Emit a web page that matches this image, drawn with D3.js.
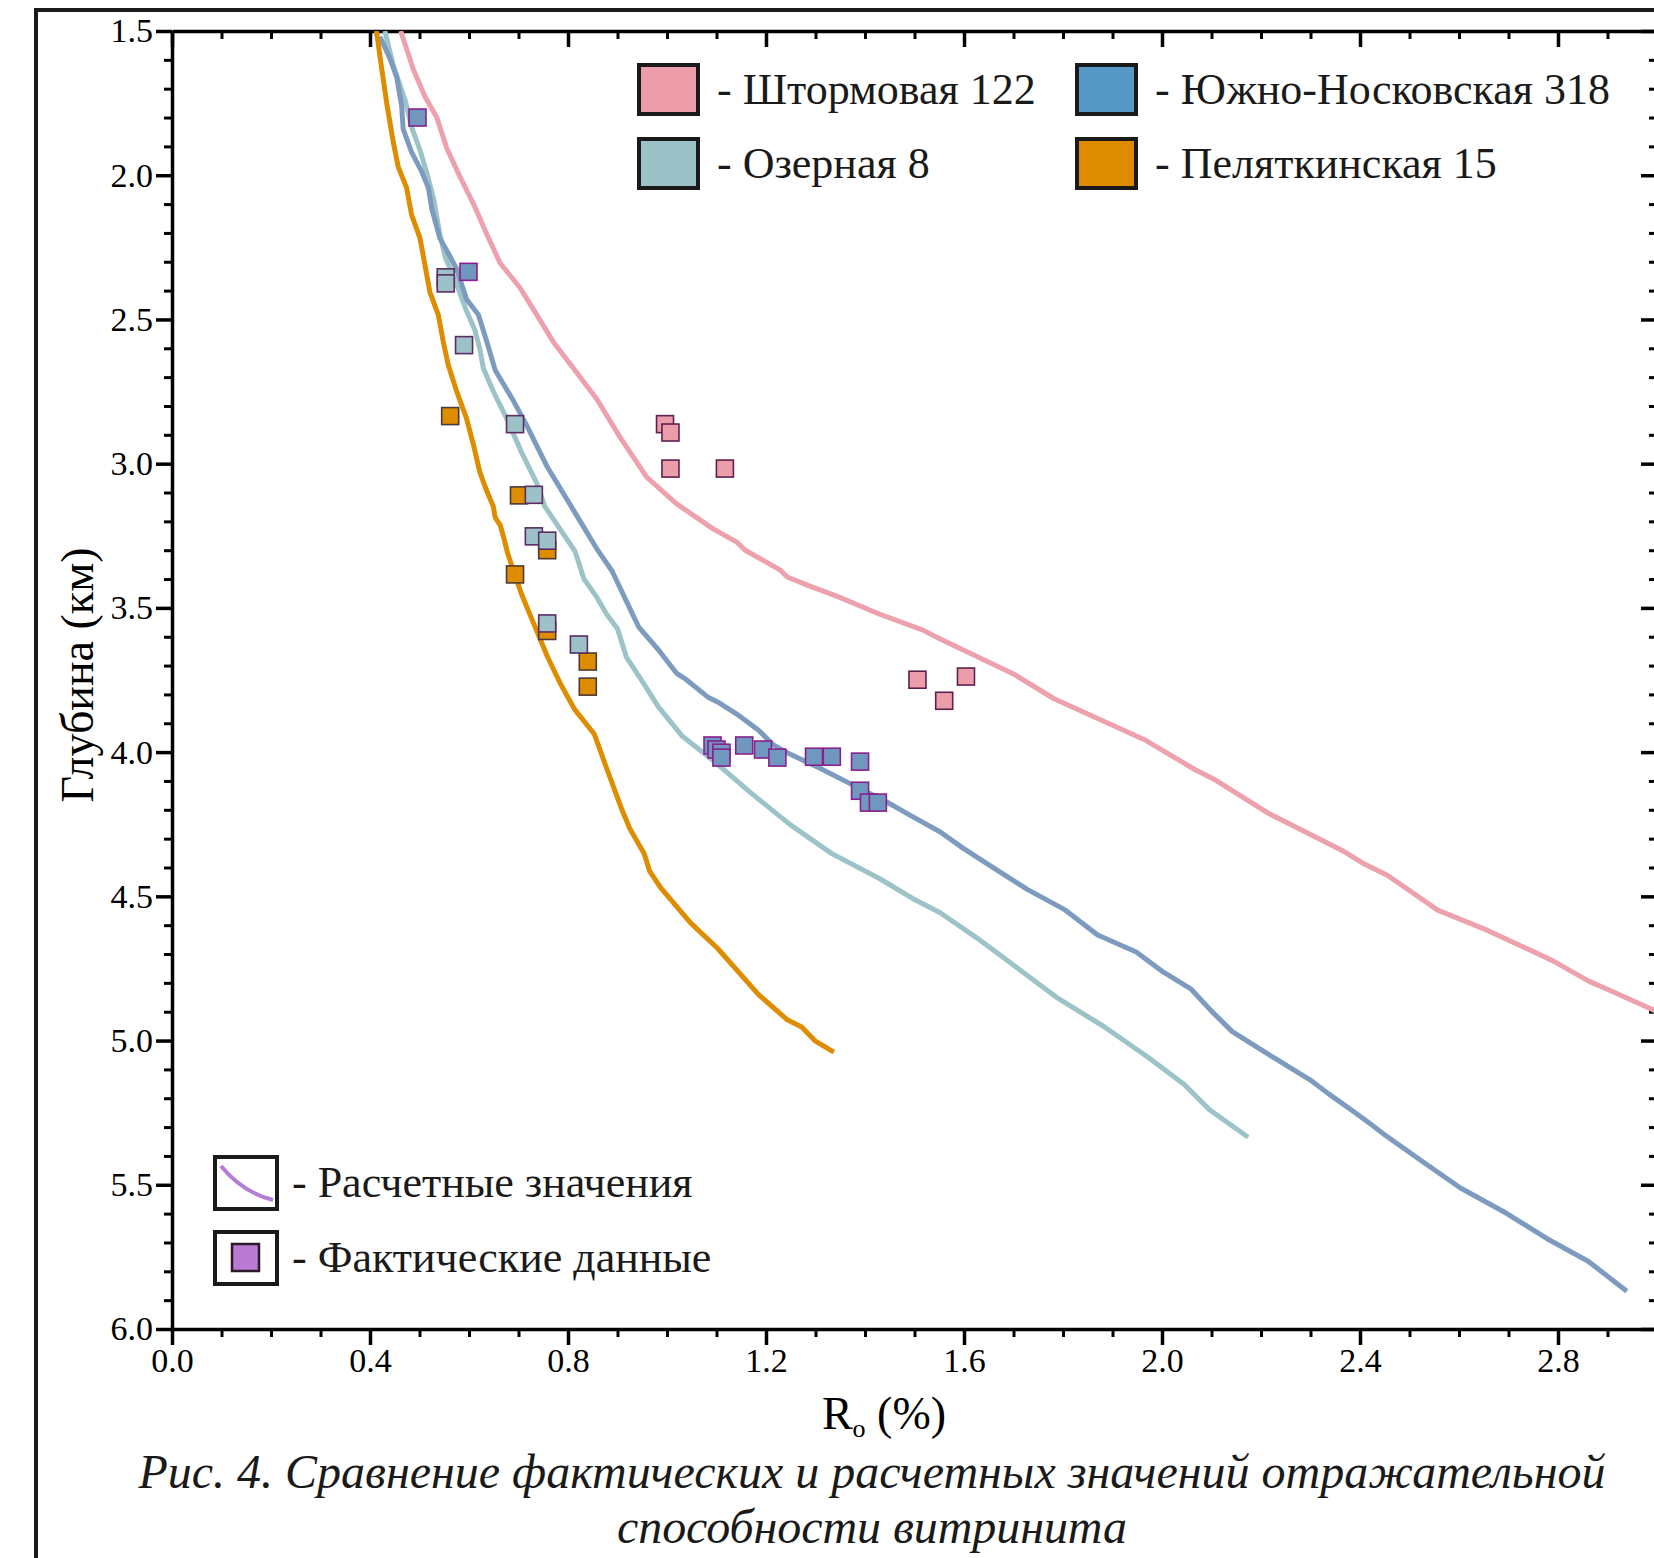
<!DOCTYPE html>
<html lang="ru">
<head>
<meta charset="utf-8">
<title>Рис. 4</title>
<script src="https://cdn.jsdelivr.net/npm/d3@7"></script>
<style>
  html, body { margin: 0; padding: 0; background: #fff; overflow: hidden; }
  svg { display: block; font-family: "Liberation Serif", "Times New Roman", serif; }
</style>
</head>
<body>
<div id="chart"></div>
<script>
// axis ticks
const xTickLabels = [0.0, 0.4, 0.8, 1.2, 1.6, 2.0, 2.4, 2.8];
const yTickLabels = [1.5, 2.0, 2.5, 3.0, 3.5, 4.0, 4.5, 5.0, 5.5, 6.0];

// wells (legend order)
const wellNames = ["Штормовая 122", "Озерная 8", "Южно-Носковская 318", "Пеляткинская 15"];

// calculated curves, [Ro %, depth km]
const shtormLine = [[0.462,1.5],[0.488,1.635],[0.511,1.727],[0.535,1.80],[0.555,1.906],[0.582,2.006],
  [0.609,2.099],[0.636,2.205],[0.663,2.305],[0.703,2.39],[0.737,2.484],[0.770,2.577],[0.811,2.669],
  [0.858,2.776],[0.905,2.908],[0.959,3.047],[1.020,3.14],[1.094,3.227],[1.141,3.272],[1.158,3.30],
  [1.228,3.368],[1.243,3.393],[1.286,3.423],[1.344,3.46],[1.430,3.522],[1.517,3.577],[1.552,3.608],
  [1.699,3.728],[1.782,3.815],[1.967,3.959],[2.068,4.062],[2.105,4.094],[2.216,4.213],[2.363,4.34],
  [2.409,4.388],[2.456,4.428],[2.557,4.548],[2.659,4.619],[2.788,4.722],[2.862,4.794],[2.903,4.825],
  [2.998,4.898]];

const ozernLine = [[0.430,1.5],[0.447,1.62],[0.471,1.74],[0.484,1.833],[0.501,1.913],[0.515,1.993],
  [0.529,2.086],[0.541,2.204],[0.552,2.284],[0.572,2.364],[0.595,2.471],[0.612,2.537],[0.622,2.603],
  [0.629,2.669],[0.649,2.749],[0.676,2.843],[0.706,2.96],[0.737,3.068],[0.753,3.148],[0.784,3.227],
  [0.814,3.303],[0.832,3.399],[0.857,3.46],[0.878,3.522],[0.900,3.572],[0.918,3.671],[0.951,3.757],
  [0.983,3.844],[1.030,3.943],[1.098,4.036],[1.170,4.142],[1.250,4.253],[1.333,4.352],[1.430,4.439],
  [1.502,4.513],[1.552,4.557],[1.625,4.643],[1.713,4.755],[1.787,4.850],[1.884,4.953],[1.971,5.057],
  [2.045,5.152],[2.096,5.24],[2.174,5.335]];

const yuzhnLine = [[0.420,1.52],[0.440,1.594],[0.454,1.66],[0.464,1.76],[0.467,1.84],[0.484,1.92],
  [0.504,1.986],[0.518,2.044],[0.525,2.117],[0.541,2.218],[0.558,2.27],[0.575,2.325],[0.595,2.43],
  [0.619,2.484],[0.636,2.577],[0.653,2.676],[0.690,2.783],[0.717,2.869],[0.757,3.008],[0.811,3.161],
  [0.860,3.30],[0.889,3.372],[0.917,3.473],[0.943,3.567],[0.983,3.646],[1.019,3.726],[1.036,3.745],
  [1.084,3.811],[1.106,3.83],[1.141,3.868],[1.185,3.924],[1.214,3.974],[1.246,4.005],[1.308,4.055],
  [1.372,4.111],[1.444,4.173],[1.488,4.216],[1.552,4.277],[1.598,4.333],[1.662,4.404],[1.727,4.475],
  [1.805,4.548],[1.870,4.634],[1.948,4.693],[2.003,4.763],[2.059,4.822],[2.100,4.898],[2.142,4.969],
  [2.216,5.049],[2.299,5.136],[2.336,5.184],[2.382,5.240],[2.418,5.285],[2.451,5.328],[2.529,5.423],
  [2.603,5.511],[2.695,5.598],[2.778,5.687],[2.861,5.765],[2.939,5.869]];

const pelyatLine = [[0.413,1.5],[0.424,1.635],[0.434,1.753],[0.447,1.885],[0.457,1.971],[0.474,2.044],
  [0.484,2.137],[0.501,2.218],[0.511,2.311],[0.521,2.405],[0.538,2.484],[0.548,2.577],[0.558,2.657],
  [0.575,2.749],[0.595,2.843],[0.609,2.935],[0.622,3.03],[0.636,3.095],[0.649,3.148],[0.653,3.187],
  [0.663,3.213],[0.670,3.255],[0.678,3.31],[0.690,3.372],[0.706,3.452],[0.727,3.539],[0.759,3.671],
  [0.785,3.764],[0.813,3.851],[0.853,3.937],[0.878,4.056],[0.907,4.191],[0.925,4.266],[0.954,4.352],
  [0.965,4.413],[0.987,4.47],[1.048,4.593],[1.102,4.68],[1.185,4.841],[1.243,4.928],[1.272,4.953],
  [1.300,5.002],[1.337,5.04]];

// measured data, [Ro %, depth km]
const shtormPts = [[0.996,2.863],[1.007,2.892],[1.007,3.017],[1.117,3.017],[1.506,3.749],[1.560,3.822],[1.604,3.738]];
const pelyatPts = [[0.562,2.835],[0.701,3.11],[0.758,3.30],[0.693,3.384],[0.758,3.58],[0.840,3.686],[0.840,3.773]];
const ozernPts = [[0.553,2.354],[0.553,2.375],[0.590,2.589],[0.693,2.863],[0.731,3.108],[0.731,3.252],
  [0.758,3.267],[0.758,3.554],[0.822,3.627]];
const yuzhnPts = [[0.496,1.80],[0.599,2.335],[1.092,3.977],[1.100,3.991],[1.110,4.002],[1.110,4.019],
  [1.156,3.977],[1.194,3.991],[1.223,4.019],[1.297,4.016],[1.333,4.016],[1.390,4.033],[1.390,4.134],
  [1.408,4.175],[1.426,4.175]];

const FONT = "'Liberation Serif', 'Times New Roman', serif";
const W = 1654, H = 1558;
const svg = d3.select("#chart").append("svg")
  .attr("width", W)
  .attr("height", H)
  .attr("font-family", FONT);

// outer frame of the figure (runs off the right and bottom edge)
svg.append("rect")
  .attr("x", 36).attr("y", 10)
  .attr("width", 1700).attr("height", 1700)
  .attr("fill", "none")
  .attr("stroke", "#1a1a1a")
  .attr("stroke-width", 4);

const x = d3.scaleLinear().domain([0, 3.0]).range([172, 1657]);
const y = d3.scaleLinear().domain([1.5, 6.0]).range([31, 1329]);

const xMinor = d3.range(0, 31).map(i => i / 10).filter(v => !xTickLabels.some(t => Math.abs(t - v) < 1e-6));
const yMinor = d3.range(15, 61).map(i => i / 10).filter(v => !yTickLabels.some(t => Math.abs(t - v) < 1e-6));

// draw one axis: major ticks (with or without labels) plus minor ticks
function drawAxis(make, scale, major, minor, transform, labels) {
  const g = svg.append("g").attr("transform", transform);
  g.append("g").call(make(scale).tickValues(minor).tickSize(8).tickSizeOuter(0).tickFormat(""))
    .call(a => a.select(".domain").remove())
    .call(a => a.selectAll("line").attr("stroke", "#000").attr("stroke-width", 3));
  g.append("g").call(make(scale).tickValues(major).tickSize(16).tickSizeOuter(0).tickPadding(3)
      .tickFormat(labels ? d3.format(".1f") : ""))
    .attr("font-family", FONT)
    .attr("font-size", 34)
    .call(a => a.select(".domain").attr("stroke", "#000").attr("stroke-width", 3.5))
    .call(a => a.selectAll("line").attr("stroke", "#000").attr("stroke-width", 3.5))
    .call(a => a.selectAll("text").attr("fill", "#000"));
}

drawAxis(d3.axisLeft, y, yTickLabels, yMinor, `translate(${x(0)},0)`, true);
drawAxis(d3.axisLeft, y, yTickLabels, yMinor, `translate(${x(3.0)},0)`, false);
drawAxis(d3.axisBottom, x, xTickLabels, xMinor, `translate(0,${y(6.0)})`, true);
drawAxis(d3.axisBottom, x, xTickLabels, xMinor, `translate(0,${y(1.5)})`, false);

// axis titles
svg.append("text")
  .attr("transform", `translate(93,675) rotate(-90)`)
  .attr("text-anchor", "middle")
  .attr("font-size", 46)
  .text("Глубина (км)");

const xTitle = svg.append("text")
  .attr("x", 884).attr("y", 1429)
  .attr("text-anchor", "middle")
  .attr("font-size", 46);
xTitle.append("tspan").text("R");
xTitle.append("tspan").attr("font-size", 26).attr("dy", 8).text("o");
xTitle.append("tspan").attr("dy", -8).text(" (%)");

// caption
const captionLines = ["Рис. 4. Сравнение фактических и расчетных значений отражательной", "способности витринита"];
const captionWidths = [1467, 510];
svg.selectAll(".caption")
  .data(captionLines)
  .join("text")
  .attr("class", "caption")
  .attr("x", 872)
  .attr("y", (d, i) => 1488 + i * 55)
  .attr("text-anchor", "middle")
  .attr("font-size", 48)
  .attr("font-style", "italic")
  .attr("fill", "#1a1a1a")
  .attr("textLength", (d, i) => captionWidths[i])
  .attr("lengthAdjust", "spacing")
  .text(d => d);

// curves
const curves = [ozernLine, yuzhnLine, pelyatLine, shtormLine];
const curveColors = ["#9cc3c8", "#7d9bbf", "#de8c00", "#eda1ac"];

svg.append("clipPath").attr("id", "plot-clip")
  .append("rect")
  .attr("x", x(0)).attr("y", y(1.5))
  .attr("width", x(3.0) - x(0)).attr("height", y(6.0) - y(1.5));

const line = d3.line()
  .x(d => x(d[0]))
  .y(d => y(d[1]));

svg.append("g").attr("clip-path", "url(#plot-clip)")
  .selectAll("path")
  .data(curves)
  .join("path")
  .attr("d", line)
  .attr("fill", "none")
  .attr("stroke", (d, i) => curveColors[i])
  .attr("stroke-width", 5)
  .attr("stroke-linejoin", "round");

// measured points, orange first so the teal squares sit on top
const pointSets = [
  { pts: pelyatPts, fill: "#de8c00", stroke: "#4d3a36" },
  { pts: ozernPts, fill: "#9cc1c7", stroke: "#5c2c63" },
  { pts: shtormPts, fill: "#eb9ea9", stroke: "#5e2050" },
  { pts: yuzhnPts, fill: "#7098bf", stroke: "#8a1f8f" }
];
const S = 17;
pointSets.forEach(set => {
  svg.append("g").selectAll("rect")
    .data(set.pts)
    .join("rect")
    .attr("x", d => x(d[0]) - S / 2)
    .attr("y", d => y(d[1]) - S / 2)
    .attr("width", S).attr("height", S)
    .attr("fill", set.fill)
    .attr("stroke", set.stroke)
    .attr("stroke-width", 1.6);
});

// legend of wells
const swatchColors = ["#ed9da9", "#9cc1c7", "#5799c6", "#dd8b00"];
const legendPos = [[639, 65], [639, 139], [1077, 65], [1077, 139]];
const lg = svg.append("g");
lg.selectAll("rect")
  .data(wellNames)
  .join("rect")
  .attr("x", (d, i) => legendPos[i][0])
  .attr("y", (d, i) => legendPos[i][1])
  .attr("width", 59).attr("height", 49)
  .attr("fill", (d, i) => swatchColors[i])
  .attr("stroke", "#1a1a1a")
  .attr("stroke-width", 4);
lg.selectAll("text")
  .data(wellNames)
  .join("text")
  .attr("x", (d, i) => legendPos[i][0] + 78)
  .attr("y", (d, i) => legendPos[i][1] + 39)
  .attr("font-size", 44)
  .attr("fill", "#1a1a1a")
  .text(d => "- " + d);

// legend of marks
const markLabels = ["Расчетные значения", "Фактические данные"];
const ml = svg.append("g");
ml.selectAll("rect.box")
  .data(markLabels)
  .join("rect")
  .attr("class", "box")
  .attr("x", 215)
  .attr("y", (d, i) => 1157 + i * 75)
  .attr("width", 62).attr("height", 52)
  .attr("fill", "#fff")
  .attr("stroke", "#1a1a1a")
  .attr("stroke-width", 4);
ml.selectAll("text")
  .data(markLabels)
  .join("text")
  .attr("x", 292)
  .attr("y", (d, i) => 1197 + i * 75)
  .attr("font-size", 44)
  .attr("fill", "#1a1a1a")
  .text(d => "- " + d);
ml.append("path")
  .attr("d", "M221,1166 Q242,1192 273,1200")
  .attr("fill", "none")
  .attr("stroke", "#b57dd8")
  .attr("stroke-width", 4);
ml.append("rect")
  .attr("x", 232).attr("y", 1244)
  .attr("width", 27).attr("height", 27)
  .attr("fill", "#b97bd2")
  .attr("stroke", "#2a1a2a")
  .attr("stroke-width", 2.5);
</script>
</body>
</html>
